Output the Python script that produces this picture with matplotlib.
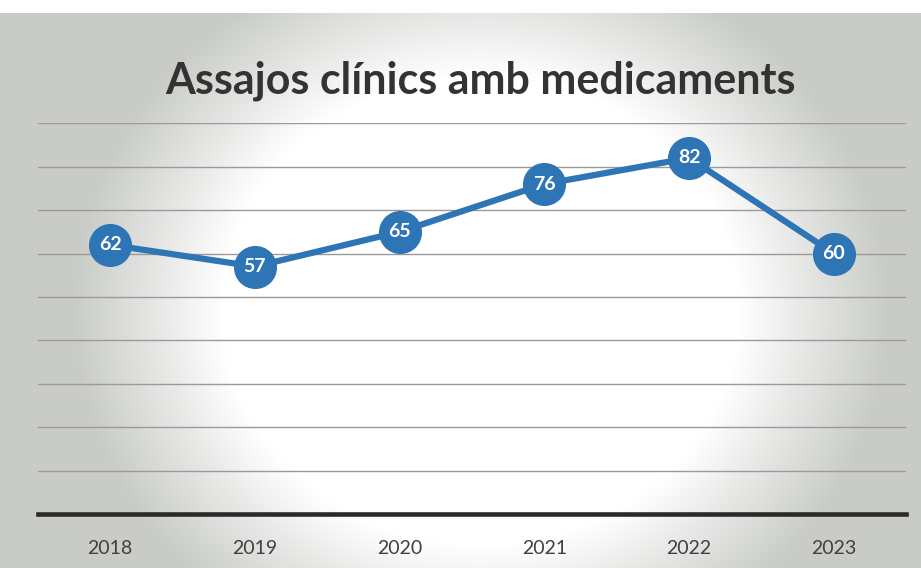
import numpy as np
import matplotlib.pyplot as plt

years = ['2018', '2019', '2020', '2021', '2022', '2023']
trials = [62, 57, 65, 76, 82, 60]

fig = plt.figure(figsize=(9.21, 5.68), dpi=100)

# scanned-looking background: gray page with a white glow in the middle
bg = fig.add_axes([0, 0, 1, 1])
h, w = 568, 921
yy, xx = np.mgrid[0:h, 0:w]
r = np.sqrt(((xx - 480) / 330.0) ** 2 + ((yy - 310) / 300.0) ** 2)
glow = np.clip((r - 0.78) / 0.45, 0, 1)
img = np.ones((h, w, 3))
gray = np.array([0.79, 0.80, 0.78])
img = img * (1 - glow[..., None]) + gray * glow[..., None]
img[:13, :] = 1.0
bg.imshow(img, aspect='auto', extent=[0, w, h, 0])
bg.axis('off')

ax = fig.add_axes([0.041, 0.095, 0.943, 0.688])
ax.patch.set_alpha(0)
x = np.arange(len(years))
ax.plot(x, trials, color='#2e75b6', lw=4.5, marker='o', ms=30,
        markerfacecolor='#2e75b6', markeredgecolor='#2e75b6', zorder=3)
for i, v in enumerate(trials):
    ax.text(i, v, str(v), ha='center', va='center', color='white',
            fontsize=14, fontweight='bold', family='Lato', zorder=4)

ax.set_xlim(-0.5, len(years) - 0.5)
ax.set_ylim(0, 90)
ax.set_yticks(np.arange(10, 91, 10))
ax.yaxis.grid(True, color='#9a9a9a', lw=1)
ax.set_yticklabels([])
ax.tick_params(axis='y', length=0)
ax.set_xticks(x)
ax.set_xticklabels(years, family='Lato', fontsize=14, color='#404040')
ax.tick_params(axis='x', length=0, pad=19)
for s in ['top', 'right', 'left']:
    ax.spines[s].set_visible(False)
ax.spines['bottom'].set_linewidth(3.3)
ax.spines['bottom'].set_color('#2a2a2a')

fig.text(0.522, 0.858, 'Assajos clínics amb medicaments', ha='center', va='center',
         fontsize=31, fontweight='bold', family='Lato', color='#333333')

fig.savefig('out.png', dpi=100)
